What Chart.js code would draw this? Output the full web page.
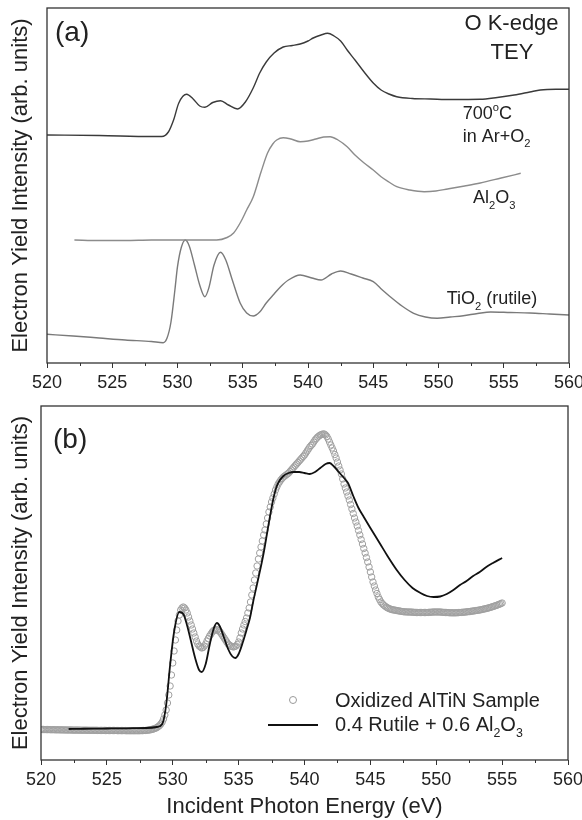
<!DOCTYPE html>
<html>
<head>
<meta charset="utf-8">
<script src="https://cdn.jsdelivr.net/npm/chart.js@4.4.1/dist/chart.umd.min.js"></script>
<style>
  html, body { margin: 0; padding: 0; background: #fff; }
  #wrap { position: relative; width: 582px; height: 820px; }
  .panel { position: absolute; left: 0; width: 582px; }
  #panelA { top: 0; height: 400px; }
  #panelB { top: 400px; height: 420px; }
</style>
</head>
<body>
<div id="wrap">
  <div class="panel" id="panelA"><canvas id="chartA"></canvas></div>
  <div class="panel" id="panelB"><canvas id="chartB"></canvas></div>
</div>
<script>
// --- DATA: panel (a), O K-edge TEY spectra (arb. units) ---
const energyAnnealed = [520, 524, 528, 528.8, 529.3, 529.7, 530.1, 530.7, 531.2, 531.7,
    532.1, 532.7, 533.3, 533.9, 534.6, 535.2, 535.8, 536.3, 536.8, 537.4,
    538.1, 538.8, 539.4, 540.0, 540.4, 541.0, 541.5, 542.0, 542.5, 543.0,
    543.6, 544.3, 545.0, 545.6, 546.2, 546.8, 548.0, 549.4, 551.0, 553.2,
    554.5, 555.8, 557.0, 557.8, 559.0, 560];
const intensityAnnealed = [228, 227.5, 226.5, 226.5, 231, 243, 260, 268.7, 264, 257,
    255.7, 260.5, 262.3, 258, 254, 261, 275, 290, 301, 310,
    316, 317.5, 319, 322, 325, 328, 329.7, 327, 322, 313,
    303, 291, 280, 273, 269, 266.3, 264.5, 264, 263.5, 263.7,
    265.5, 268, 271, 273, 273.7, 273.7];

const energyAl2O3 = [522.1, 524, 526, 528, 530, 531.5, 533.0, 533.8, 534.3, 534.8,
    535.3, 535.8, 536.4, 536.9, 537.3, 537.6, 538.1, 538.7, 539.4, 540.0,
    540.6, 541.2, 541.7, 542.3, 543.0, 543.6, 544.3, 545.0, 545.6, 546.2,
    546.8, 547.8, 548.9, 549.8, 550.7, 552.0, 553.2, 554.8, 556.3];
const intensityAl2O3 = [123, 122.5, 122.5, 123, 123, 123, 123, 125.5, 130, 140,
    153, 166, 191, 210, 219, 223, 225.3, 224, 221.3, 222,
    224, 226, 226.3, 223, 216.3, 208, 200, 193, 186.3, 181,
    176.3, 173, 171.3, 172, 174, 177, 180, 185, 189.7];

const energyRutile = [520, 522, 524, 526, 528, 528.9, 529.2, 529.5, 529.8, 530.0,
    530.3, 530.6, 530.9, 531.3, 531.7, 532.1, 532.4, 532.8, 533.3, 533.7,
    534.2, 534.8, 535.3, 535.8, 536.3, 536.8, 537.4, 537.9, 538.5, 539.4,
    540.3, 541.0, 541.8, 542.5, 543.3, 544.2, 545.0, 545.7, 546.3, 547.2,
    548.1, 549.0, 549.9, 550.9, 551.9, 553.0, 554.0, 555.5, 557.0, 558.5, 560];
const intensityRutile = [28.7, 27, 25, 23, 21.5, 20.3, 25, 41, 73, 96.3,
    116, 123, 117, 98, 78, 66.3, 75, 98, 110.7, 103,
    83, 60, 50, 47, 51, 60, 69, 76.3, 83, 88,
    85, 83, 89, 92, 89, 85, 81.3, 73, 66.3, 57,
    49.7, 46, 44.7, 46, 47.3, 49.5, 51, 50.5, 50, 49, 48];

// --- DATA: panel (b), measured sample (0.1 eV grid from 520 eV, one row per eV) ---
const sampleStartEV = 520;
const sampleStepEV = 0.1;
const intensitySample = [
    30.5, 30.5, 30.5, 30.4, 30.4, 30.4, 30.4, 30.3, 30.3, 30.3,
    30.3, 30.2, 30.2, 30.2, 30.2, 30.1, 30.1, 30.1, 30.1, 30.0,
    30.0, 30.0, 30.0, 30.0, 29.9, 29.9, 29.9, 29.9, 29.9, 29.9,
    29.8, 29.8, 29.8, 29.8, 29.8, 29.8, 29.7, 29.7, 29.7, 29.7,
    29.7, 29.7, 29.7, 29.6, 29.6, 29.6, 29.6, 29.6, 29.6, 29.5,
    29.5, 29.5, 29.5, 29.5, 29.5, 29.5, 29.5, 29.5, 29.4, 29.4,
    29.4, 29.4, 29.4, 29.4, 29.4, 29.3, 29.3, 29.3, 29.3, 29.3,
    29.3, 29.3, 29.3, 29.3, 29.3, 29.3, 29.4, 29.4, 29.5, 29.5,
    29.7, 29.8, 30.0, 30.2, 30.5, 30.9, 31.3, 31.8, 32.5, 33.4,
    34.5, 36, 38, 41, 45, 50, 57, 65, 74, 85,
    97, 109, 120, 130, 139, 145, 150, 152, 153, 152,
    150, 147, 143, 139, 135, 131, 127, 123, 119, 116,
    114, 113, 112, 112.5, 114, 116, 119, 121.5, 124, 126,
    128, 129.5, 130, 130.5, 130, 129, 128, 126, 124, 122,
    120, 118, 116, 115, 114, 113.5, 113, 113.5, 114, 115.5,
    118, 122, 127, 131, 135, 138.5, 142, 147, 152, 158,
    165, 172, 180, 187, 194, 201, 207, 213, 219, 225,
    230, 236, 242, 248, 253, 258, 262, 266, 270, 273,
    276, 278, 280, 281.5, 283, 284, 285, 286, 287, 288.5,
    290, 291.5, 293, 294.5, 296, 297.5, 299, 300.5, 302, 303.5,
    305, 307, 309, 311, 313, 314.5, 316, 318, 320, 321.5,
    323, 324, 325, 325.5, 326, 326, 325, 323.5, 321, 318,
    315, 312, 309, 305.5, 302, 298, 294, 290, 286, 281,
    276, 272, 268, 264, 260, 255.5, 251, 246.5, 242, 238,
    234, 229.5, 225, 220.5, 216, 211.5, 207, 202.5, 198, 193,
    188, 183, 178, 174, 170, 166.5, 163, 160.5, 158, 156.5,
    155, 154, 153, 152.2, 151.5, 151, 150.5, 150.2, 150, 149.7,
    149.5, 149.2, 149, 148.8, 148.5, 148.3, 148.2, 148.1, 148, 148,
    148, 147.9, 147.8, 147.7, 147.6, 147.5, 147.5, 147.5, 147.5, 147.5,
    147.5, 147.5, 147.5, 147.5, 147.6, 147.7, 147.8, 147.9, 148, 148,
    148, 148, 148, 148, 147.8, 147.7, 147.6, 147.5, 147.5, 147.4,
    147.3, 147.2, 147.2, 147.2, 147.2, 147.2, 147.3, 147.4, 147.5, 147.6,
    147.7, 147.8, 148, 148.1, 148.3, 148.4, 148.6, 148.8, 149, 149.2,
    149.4, 149.6, 149.8, 150, 150.3, 150.6, 150.9, 151.2, 151.5, 151.8,
    152.2, 152.6, 153, 153.4, 153.9, 154.3, 154.8, 155.3, 155.8, 156.4,
    157];

// --- DATA: panel (b), linear combination 0.4 rutile + 0.6 Al2O3 ---
const energyFit = [522.1, 523, 524, 525, 526, 527, 528, 528.8, 529.2, 529.5,
    529.8, 530.1, 530.5, 530.8, 531.1, 531.4, 531.7, 532.0, 532.2, 532.5,
    532.8, 533.1, 533.35, 533.6, 533.9, 534.2, 534.5, 534.75, 535.0, 535.3,
    535.6, 535.86, 536.1, 536.4, 536.7, 536.9, 537.2, 537.4, 537.6, 537.8,
    538.0, 538.4, 538.8, 539.2, 539.6, 540.0, 540.4, 540.8, 541.2, 541.6,
    541.9, 542.2, 542.6, 543.0, 543.3, 543.7, 544.1, 544.5, 545.0, 545.7,
    546.3, 547.0, 547.6, 548.2, 548.8, 549.3, 549.8, 550.3, 550.8, 551.3,
    551.8, 552.3, 552.8, 553.3, 553.8, 554.3, 555.0];
const intensityFit = [31, 31.2, 31.4, 31.5, 31.6, 31.8, 32, 33, 36, 55,
    95, 128, 148, 146, 134, 118, 102, 90, 88, 96,
    115, 131, 137, 133, 122, 111, 104, 102, 106, 117,
    130, 142, 158, 176, 194, 207, 230, 245, 259, 270,
    277, 284, 287, 288, 288, 287, 286, 288, 292, 296,
    297, 294, 288, 282, 277, 264, 252, 243, 232, 217,
    204, 190, 180, 172, 167, 164, 163, 163.5, 166, 170,
    175, 179, 184, 188, 193, 197, 202];

const minorTicks = [522.5, 527.5, 532.5, 537.5, 542.5, 547.5, 552.5, 557.5];

const FONT = '"Liberation Sans", Arial, Helvetica, sans-serif';
Chart.defaults.font.family = FONT;
Chart.defaults.color = '#222';

function pairs(xs, ys) {
    return xs.map((x, i) => ({ x: x, y: ys[i] }));
}

// text with sub/superscripts: parts = [[text, 'sub'|'sup'|null], ...]
function drawRich(ctx, x, y, parts, size, align) {
    const pieces = parts.map(([t, mode]) => {
        const s = mode ? size * 0.62 : size;
        ctx.font = s + 'px ' + FONT;
        return { t, s, mode, w: ctx.measureText(t).width };
    });
    const total = pieces.reduce((a, p) => a + p.w, 0);
    let cx = align === 'center' ? x - total / 2 : (align === 'right' ? x - total : x);
    pieces.forEach(p => {
        ctx.font = p.s + 'px ' + FONT;
        const dy = p.mode === 'sub' ? size * 0.32 : (p.mode === 'sup' ? -size * 0.42 : 0);
        ctx.fillText(p.t, cx, y + dy);
        cx += p.w;
    });
}

// --- PLUGIN: box frame, minor ticks, text notes ---
const panelDecor = {
    id: 'panelDecor',
    afterDatasetsDraw(chart, args, opts) {
        const { ctx, chartArea: a, scales: { x } } = chart;
        ctx.save();
        ctx.strokeStyle = '#333';
        ctx.lineWidth = 1.3;
        ctx.strokeRect(a.left, a.top, a.right - a.left, a.bottom - a.top);
        ctx.lineWidth = 1;
        minorTicks.forEach(v => {
            const px = Math.round(x.getPixelForValue(v)) + 0.5;
            ctx.beginPath();
            ctx.moveTo(px, a.bottom);
            ctx.lineTo(px, a.bottom + 3);
            ctx.stroke();
        });
        ctx.fillStyle = '#222';
        ctx.textBaseline = 'alphabetic';
        (opts.notes || []).forEach(n => drawRich(ctx, n.x, n.y, n.parts, n.size, n.align));
        if (opts.legend) opts.legend(ctx);
        ctx.restore();
    }
};

function xScale(height, withTitle) {
    return {
        type: 'linear',
        min: 520,
        max: 560,
        ticks: { stepSize: 5, font: { size: 18 }, color: '#222', padding: 4 },
        grid: { drawOnChartArea: false, drawTicks: true, tickLength: 5, tickColor: '#333', tickWidth: 1 },
        border: { display: false },
        title: {
            display: withTitle,
            text: 'Incident Photon Energy (eV)',
            font: { size: 22 },
            color: '#222',
            padding: { top: 0, bottom: 0 }
        },
        afterFit(s) { s.height = height; s.paddingLeft = 0; s.paddingRight = 0; }
    };
}

function yScale(max, width) {
    return {
        min: 0,
        max: max,
        ticks: { display: false },
        grid: { display: false },
        border: { display: false },
        title: {
            display: true,
            text: 'Electron Yield Intensity (arb. units)',
            font: { size: 22 },
            color: '#222',
            padding: { top: 8, bottom: 0 }
        },
        afterFit(s) { s.width = width; }
    };
}

// --- CHART (a): reference spectra ---
new Chart(document.getElementById('chartA'), {
    type: 'scatter',
    data: {
        datasets: [
            {
                label: '700°C in Ar+O2',
                data: pairs(energyAnnealed, intensityAnnealed),
                showLine: true, borderColor: '#3a3a3a', borderWidth: 1.4,
                pointRadius: 0, cubicInterpolationMode: 'monotone'
            },
            {
                label: 'Al2O3',
                data: pairs(energyAl2O3, intensityAl2O3),
                showLine: true, borderColor: '#8c8c8c', borderWidth: 1.4,
                pointRadius: 0, cubicInterpolationMode: 'monotone'
            },
            {
                label: 'TiO2 (rutile)',
                data: pairs(energyRutile, intensityRutile),
                showLine: true, borderColor: '#7a7a7a', borderWidth: 1.4,
                pointRadius: 0, cubicInterpolationMode: 'monotone'
            }
        ]
    },
    options: {
        responsive: true,
        maintainAspectRatio: false,
        animation: false,
        layout: { padding: { top: 8, right: 13, left: 0, bottom: 0 } },
        plugins: {
            legend: { display: false },
            tooltip: { enabled: false },
            panelDecor: {
                notes: [
                    { x: 55, y: 41, size: 28, parts: [['(a)']] },
                    { x: 511.5, y: 30, size: 22, align: 'center', parts: [['O K-edge']] },
                    { x: 512, y: 59, size: 22, align: 'center', parts: [['TEY']] },
                    { x: 462.7, y: 119, size: 18, parts: [['700'], ['o', 'sup'], ['C']] },
                    { x: 462.7, y: 141.7, size: 18, parts: [['in Ar+O'], ['2', 'sub']] },
                    { x: 473, y: 203, size: 18, parts: [['Al'], ['2', 'sub'], ['O'], ['3', 'sub']] },
                    { x: 446.7, y: 304, size: 18, parts: [['TiO'], ['2', 'sub'], [' (rutile)']] }
                ]
            }
        },
        scales: { x: xScale(37, false), y: yScale(355, 47) }
    },
    plugins: [panelDecor]
});

// --- CHART (b): measured sample vs. linear combination ---
new Chart(document.getElementById('chartB'), {
    type: 'scatter',
    data: {
        datasets: [
            {
                label: '0.4 Rutile + 0.6 Al2O3',
                data: pairs(energyFit, intensityFit),
                showLine: true, borderColor: '#111', borderWidth: 1.8,
                pointRadius: 0, cubicInterpolationMode: 'monotone'
            },
            {
                label: 'Oxidized AlTiN Sample',
                data: intensitySample.map((v, i) => ({ x: sampleStartEV + i * sampleStepEV, y: v })),
                showLine: false, pointStyle: 'circle', pointRadius: 3.2,
                pointBorderWidth: 1, pointBorderColor: '#a0a0a0',
                pointBackgroundColor: 'rgba(255,255,255,0)'
            }
        ]
    },
    options: {
        responsive: true,
        maintainAspectRatio: false,
        animation: false,
        layout: { padding: { top: 6, right: 14, left: 0, bottom: 0 } },
        plugins: {
            legend: { display: false },
            tooltip: { enabled: false },
            panelDecor: {
                notes: [
                    { x: 53, y: 48, size: 28, parts: [['(b)']] },
                    { x: 335, y: 306.7, size: 20, parts: [['Oxidized AlTiN Sample']] },
                    { x: 335, y: 330.7, size: 20, parts: [['0.4 Rutile + 0.6 Al'], ['2', 'sub'], ['O'], ['3', 'sub']] }
                ],
                legend(ctx) {
                    ctx.strokeStyle = '#999';
                    ctx.lineWidth = 1;
                    ctx.beginPath();
                    ctx.arc(293, 300, 3.5, 0, Math.PI * 2);
                    ctx.stroke();
                    ctx.strokeStyle = '#111';
                    ctx.lineWidth = 1.8;
                    ctx.beginPath();
                    ctx.moveTo(268, 325);
                    ctx.lineTo(318, 325);
                    ctx.stroke();
                }
            }
        },
        scales: { x: xScale(60, true), y: yScale(354, 41) }
    },
    plugins: [panelDecor]
});
</script>
</body>
</html>
